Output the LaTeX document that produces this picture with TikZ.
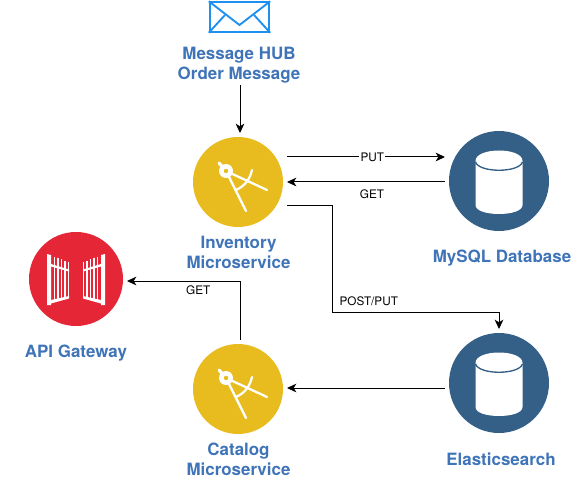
\documentclass[tikz,border=0pt]{standalone}
\usepackage{fontspec}
\setmainfont{TeX Gyre Heros}
\usetikzlibrary{arrows.meta}
\definecolor{txtblue}{HTML}{3F74B8}
\definecolor{gold}{HTML}{E8BC1E}
\definecolor{gatered}{HTML}{E52636}
\definecolor{dbblue}{HTML}{345F87}
\definecolor{envblue}{HTML}{1E90F0}
\tikzset{
 x=0.75pt,y=-0.75pt,
 title/.style={font=\bfseries\fontsize{12.7}{15}\selectfont,text=txtblue,align=center,inner sep=0pt},
 small/.style={font=\fontsize{8.8}{10}\selectfont,inner sep=1pt},
 round/.style={circle,inner sep=0pt,outer sep=3pt},
 svc/.style={round,fill=gold,minimum size=67.5pt},
 gate/.style={round,fill=gatered,minimum size=70.5pt},
 store/.style={round,fill=dbblue,minimum size=75pt},
 conn/.style={draw=black,line width=0.75pt,-{Stealth[length=7pt,width=6.5pt,inset=2pt]}},
 compass/.pic={
  \begin{scope}[draw=white,line width=1.7pt,line cap=round]
   \draw (-12,-11) -- (8,29);
   \draw (-12,-11) -- (29,8);
   \draw (14,-12) .. controls (12,-3) and (7,4) .. (-2,8);
   \draw[line width=2.4pt] (-19,-19) -- (-12,-11);
   \fill[white] (-12,-11) circle (7);
   \fill[gold] (-12,-11) circle (2.2);
  \end{scope}},
 gatepart/.pic={
  \begin{scope}[white]
   \fill (-29,-25) -- (-25,-24) -- (-25,26) -- (-29,26) -- cycle;
   \fill (-25,21) -- (-7,17) -- (-7,19.5) -- (-25,24.5) -- cycle;
   \fill (-25,-15) -- (-7,-9.5) -- (-7,-7.5) -- (-25,-12.5) -- cycle;
   \foreach \bx/\bt/\bb in {-21.5/-22/22,-18/-21/21,-14.5/-20/20,-11/-18/19,-7.5/-17/18}
     \draw[line width=1.1pt] (\bx,\bt) -- (\bx,\bb);
  \end{scope}},
 dbicon/.pic={
  \fill[white] (-23.5,-20) .. controls (-23.5,-34) and (23.5,-34) .. (23.5,-20)
     -- (23.5,24) .. controls (23.5,30) and (12,33) .. (0,33) .. controls (-12,33) and (-23.5,30) .. (-23.5,24) -- cycle;
  \draw[dbblue,line width=1pt] (-23.5,-19) .. controls (-20,-8) and (20,-8) .. (23.5,-19);
 }
}
\begin{document}
\begin{tikzpicture}
\useasboundingbox (0,0) rectangle (578,481);
\fill[white] (0,0) rectangle (578,481);
% envelope
\node[minimum width=44.5pt,minimum height=22pt,draw=envblue,line width=1.6pt,inner sep=0pt,fill=white] (env) at (239.5,17) {};
\draw[envblue,line width=1.4pt] (env.north west) -- (239.5,25) -- (env.north east);
\draw[envblue,line width=1.4pt] (env.south west) -- (225,15) (env.south east) -- (254,15);
% nodes
\node[title] (msg) at (239,65.5) {Message HUB\\Order Message};
\node[svc] (inv) at (238,182) {};
\node[title] (invl) at (238.5,252) {Inventory\\Microservice};
\node[store] (mysql) at (499,181) {};
\node[title] (mysqll) at (502,258.5) {MySQL Database};
\node[gate] (api) at (76,279) {};
\node[title] (apil) at (76,353) {API Gateway};
\node[svc] (cat) at (238,389) {};
\node[title] (catl) at (238.5,459) {Catalog\\Microservice};
\node[store] (es) at (499,383) {};
\node[title] (esl) at (501,459) {Elasticsearch};
\node[small] (getA) at (372,194) {GET};
% icons
\pic at (inv) {compass};
\pic at (cat) {compass};
\pic at (mysql) {dbicon};
\pic at (es) {dbicon};
\pic at (api) {gatepart};
\pic[xscale=-1] at (api) {gatepart};
% connectors
\coordinate (putA) at (inv.east |- 0,157);
\coordinate (putB) at (mysql.west |- 0,157);
\coordinate (getB) at (mysql.west |- 0,182);
\coordinate (getC) at (inv.east |- 0,182);
\coordinate (postA) at (inv.east |- 0,205);
\coordinate (esA) at (es.west |- 0,388);
\coordinate (esB) at (cat.east |- 0,388);
\coordinate (catA) at (240,0 |- cat.north);
\coordinate (apiA) at (api.east |- 0,281);
\coordinate (msgA) at (240,85);
\coordinate (invA) at (240,0 |- inv.north);
\draw[conn] (msgA) -- (invA);
\draw[conn] (putA) -- node[small,fill=white,pos=0.54] {PUT} (putB);
\draw[conn] (getB) -- (getC);
\draw[conn] (postA) -- (332,205) -- (332,312) -- node[pos=0.22,small,yshift=8pt] {POST/PUT} (499,312) -- (es.north);
\draw[conn] (esA) -- (esB);
\draw[conn] (catA) -- (240,281) -- node[small,pos=0.37,yshift=-7pt] {GET} (apiA);
\end{tikzpicture}
\end{document}
